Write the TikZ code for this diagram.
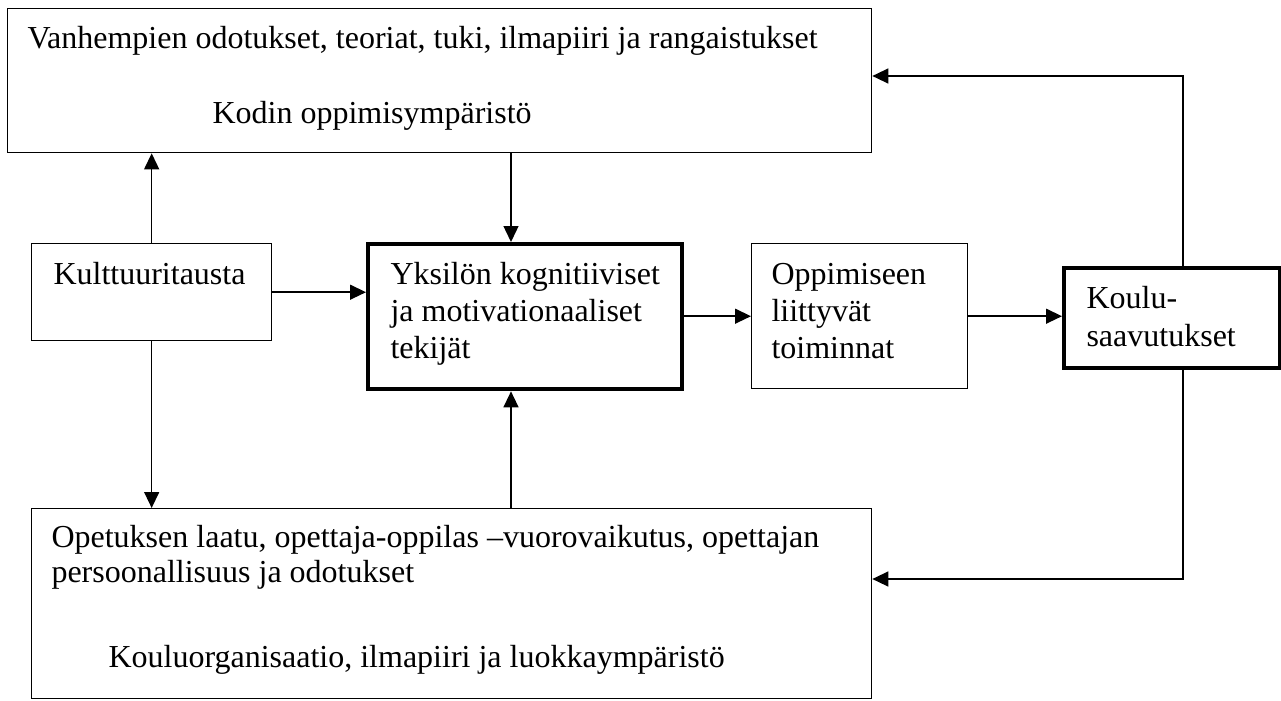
\documentclass[tikz,border=0pt]{standalone}
\usepackage{fontspec}
\setmainfont{Liberation Serif}
\usetikzlibrary{arrows.meta}
\begin{document}
\begin{tikzpicture}[x=0.375pt,y=-0.375pt,
  box/.style={draw,line width=0.5pt,inner sep=0pt,anchor=north west},
  boldbox/.style={box,line width=1.6pt},
  txt/.style={anchor=base west,inner sep=0pt,font=\fontsize{12pt}{13.8pt}\selectfont},
  arr/.style={line width=0.6pt,-{Triangle[length=6pt,width=5.6pt]}}]
\useasboundingbox (0,0) rectangle (1281,700);

% boxes
\node[box,minimum width=324pt,minimum height=54pt] (top) at (7,8) {};
\node[box,minimum width=90pt,minimum height=36.4pt] (kult) at (31,243) {};
\node[boldbox,minimum width=117.75pt,minimum height=54.4pt] (yks) at (366,242) {};
\node[box,minimum width=81pt,minimum height=54.4pt] (opp) at (751,243) {};
\node[boldbox,minimum width=81pt,minimum height=37.5pt] (koulu) at (1062,266) {};
\node[box,minimum width=315pt,minimum height=71.25pt] (bot) at (31,508) {};

% texts
\node[txt] (t1) at (27,48) {Vanhempien odotukset, teoriat, tuki, ilmapiiri ja rangaistukset};
\node[txt] (t2) at (212,123) {Kodin oppimisympäristö};
\node[txt] (t3) at (53,284) {Kulttuuritausta};
\node[txt] (t4) at (390,284) {Yksilön kognitiiviset};
\node[txt] (t5) at (390,321) {ja motivationaaliset};
\node[txt] (t6) at (390,358) {tekijät};
\node[txt] (t7) at (771,284) {Oppimiseen};
\node[txt] (t8) at (771,321) {liittyvät};
\node[txt] (t9) at (771,358) {toiminnat};
\node[txt] (t10) at (1086,308) {Koulu-};
\node[txt] (t11) at (1086,346) {saavutukset};
\node[txt] (t12) at (51,547) {Opetuksen laatu, opettaja-oppilas –vuorovaikutus, opettajan};
\node[txt] (t13) at (51,582) {persoonallisuus ja odotukset};
\node[txt] (t14) at (108,667) {Kouluorganisaatio, ilmapiiri ja luokkaympäristö};

% connectors
\coordinate (cx) at (511,0);
\coordinate (rx) at (1183,76);
\coordinate (ry) at (1183,579);
\draw[arr] (top.south -| cx) -- (yks.north -| cx);
\draw[arr] (kult.north) -- (kult.north |- top.south);
\draw[arr] (kult.south) -- (kult.south |- bot.north);
\draw[arr] (kult.east) -- (kult.east -| yks.west);
\draw[arr] (bot.north -| cx) -- (yks.south -| cx);
\draw[arr] (yks.east |- opp.west) -- (opp.west);
\draw[arr] (opp.east) -- (opp.east -| koulu.west);
\draw[arr] (koulu.north -| rx) -- (rx) -- (rx -| top.east);
\draw[arr] (koulu.south -| ry) -- (ry) -- (ry -| bot.east);
\end{tikzpicture}
\end{document}
